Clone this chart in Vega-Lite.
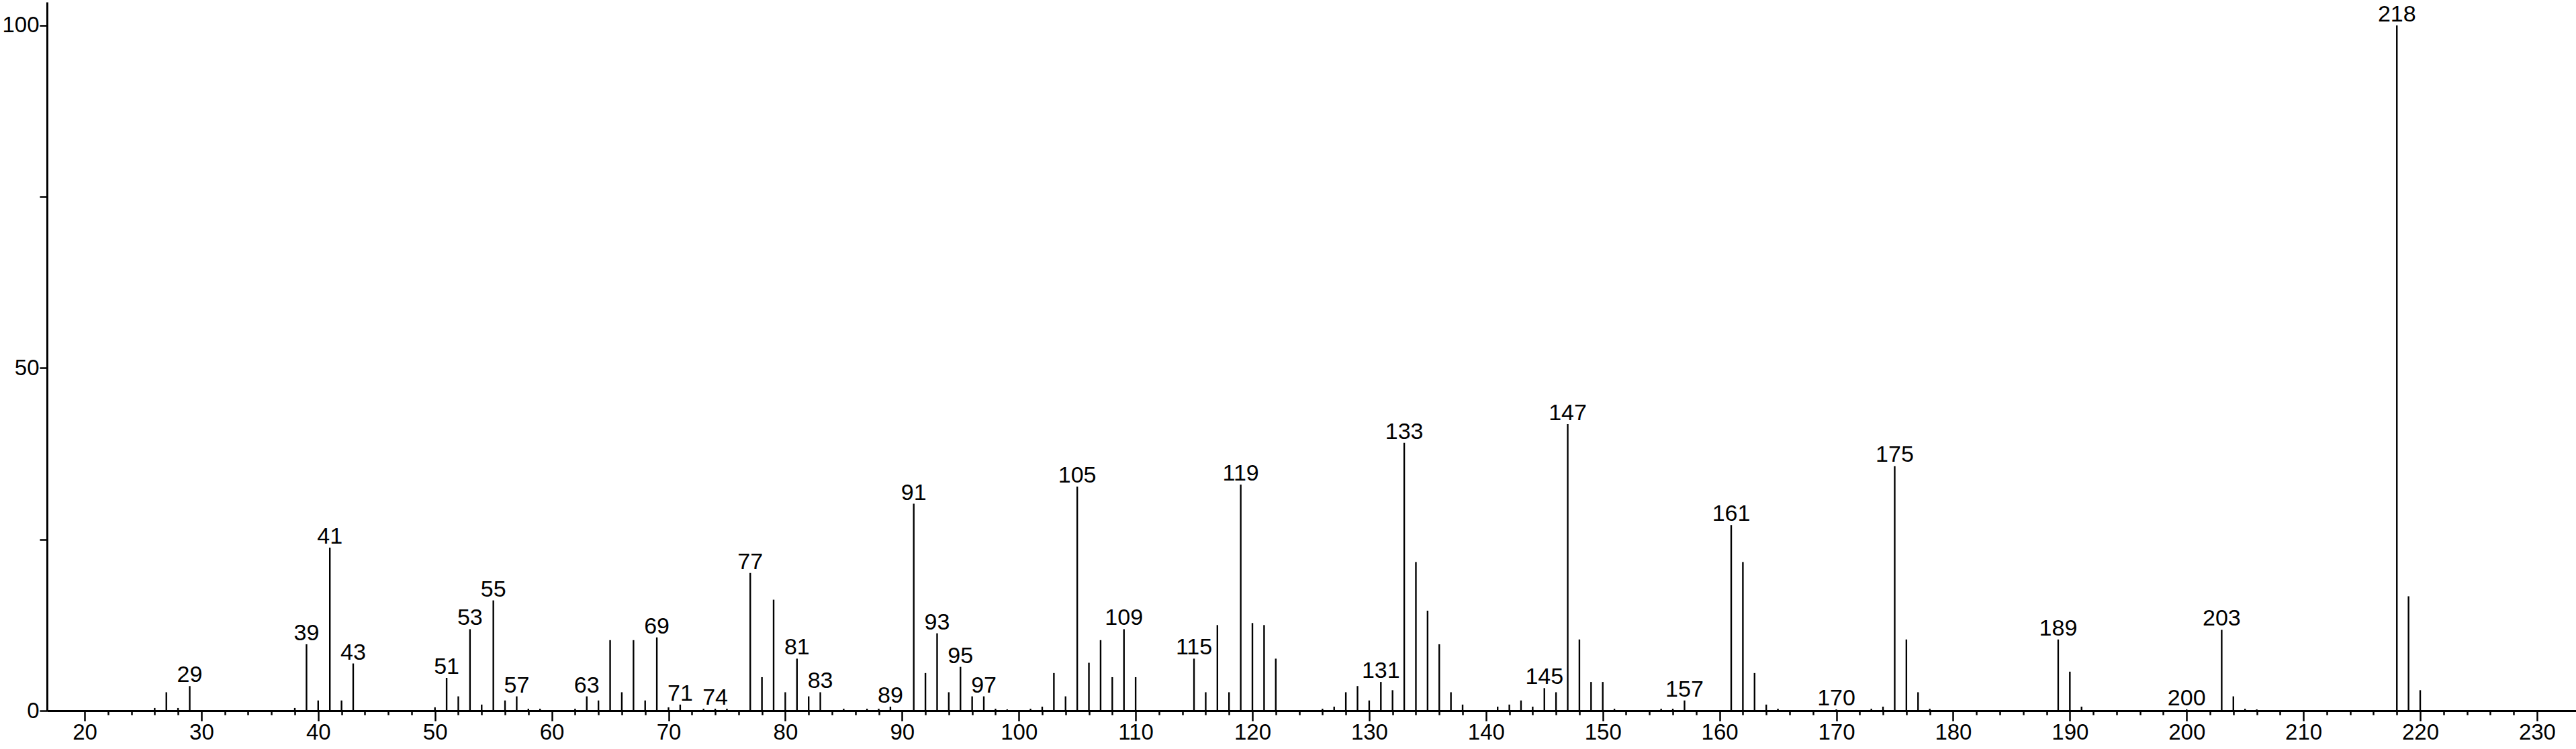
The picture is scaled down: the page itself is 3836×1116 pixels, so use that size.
{
  "$schema": "https://vega.github.io/schema/vega-lite/v6.json",
  "width": 3766,
  "height": 1056,
  "autosize": {"type": "none"},
  "padding": {"left": 70, "top": 3, "right": 0, "bottom": 57},
  "background": "white",
  "config": {"view": {"stroke": null}, "font": "Liberation Sans"},
  "data": {"values": [
    {"mz": 26, "i": 0.4, "label": ""},
    {"mz": 27, "i": 2.7, "label": ""},
    {"mz": 28, "i": 0.4, "label": ""},
    {"mz": 29, "i": 3.6, "label": "29"},
    {"mz": 38, "i": 0.4, "label": ""},
    {"mz": 39, "i": 9.7, "label": "39"},
    {"mz": 40, "i": 1.5, "label": ""},
    {"mz": 41, "i": 23.8, "label": "41"},
    {"mz": 42, "i": 1.5, "label": ""},
    {"mz": 43, "i": 6.9, "label": "43"},
    {"mz": 50, "i": 0.5, "label": ""},
    {"mz": 51, "i": 4.8, "label": "51"},
    {"mz": 52, "i": 2.1, "label": ""},
    {"mz": 53, "i": 11.9, "label": "53"},
    {"mz": 54, "i": 0.9, "label": ""},
    {"mz": 55, "i": 16.1, "label": "55"},
    {"mz": 56, "i": 1.5, "label": ""},
    {"mz": 57, "i": 2.1, "label": "57"},
    {"mz": 58, "i": 0.3, "label": ""},
    {"mz": 59, "i": 0.3, "label": ""},
    {"mz": 62, "i": 0.3, "label": ""},
    {"mz": 63, "i": 2.1, "label": "63"},
    {"mz": 64, "i": 1.5, "label": ""},
    {"mz": 65, "i": 10.3, "label": ""},
    {"mz": 66, "i": 2.7, "label": ""},
    {"mz": 67, "i": 10.3, "label": ""},
    {"mz": 68, "i": 1.5, "label": ""},
    {"mz": 69, "i": 10.7, "label": "69"},
    {"mz": 70, "i": 0.5, "label": ""},
    {"mz": 71, "i": 0.9, "label": "71"},
    {"mz": 73, "i": 0.3, "label": ""},
    {"mz": 74, "i": 0.3, "label": "74"},
    {"mz": 75, "i": 0.3, "label": ""},
    {"mz": 77, "i": 20.1, "label": "77"},
    {"mz": 78, "i": 4.9, "label": ""},
    {"mz": 79, "i": 16.2, "label": ""},
    {"mz": 80, "i": 2.7, "label": ""},
    {"mz": 81, "i": 7.6, "label": "81"},
    {"mz": 82, "i": 2.1, "label": ""},
    {"mz": 83, "i": 2.7, "label": "83"},
    {"mz": 85, "i": 0.3, "label": ""},
    {"mz": 87, "i": 0.3, "label": ""},
    {"mz": 88, "i": 0.3, "label": ""},
    {"mz": 89, "i": 0.6, "label": "89"},
    {"mz": 91, "i": 30.2, "label": "91"},
    {"mz": 92, "i": 5.5, "label": ""},
    {"mz": 93, "i": 11.3, "label": "93"},
    {"mz": 94, "i": 2.7, "label": ""},
    {"mz": 95, "i": 6.4, "label": "95"},
    {"mz": 96, "i": 2.1, "label": ""},
    {"mz": 97, "i": 2.1, "label": "97"},
    {"mz": 98, "i": 0.3, "label": ""},
    {"mz": 99, "i": 0.2, "label": ""},
    {"mz": 101, "i": 0.3, "label": ""},
    {"mz": 102, "i": 0.6, "label": ""},
    {"mz": 103, "i": 5.5, "label": ""},
    {"mz": 104, "i": 2.1, "label": ""},
    {"mz": 105, "i": 32.7, "label": "105"},
    {"mz": 106, "i": 7.0, "label": ""},
    {"mz": 107, "i": 10.3, "label": ""},
    {"mz": 108, "i": 4.9, "label": ""},
    {"mz": 109, "i": 11.9, "label": "109"},
    {"mz": 110, "i": 4.9, "label": ""},
    {"mz": 115, "i": 7.6, "label": "115"},
    {"mz": 116, "i": 2.7, "label": ""},
    {"mz": 117, "i": 12.5, "label": ""},
    {"mz": 118, "i": 2.7, "label": ""},
    {"mz": 119, "i": 33.0, "label": "119"},
    {"mz": 120, "i": 12.8, "label": ""},
    {"mz": 121, "i": 12.5, "label": ""},
    {"mz": 122, "i": 7.6, "label": ""},
    {"mz": 126, "i": 0.3, "label": ""},
    {"mz": 127, "i": 0.6, "label": ""},
    {"mz": 128, "i": 2.7, "label": ""},
    {"mz": 129, "i": 3.6, "label": ""},
    {"mz": 130, "i": 1.5, "label": ""},
    {"mz": 131, "i": 4.2, "label": "131"},
    {"mz": 132, "i": 3.0, "label": ""},
    {"mz": 133, "i": 39.1, "label": "133"},
    {"mz": 134, "i": 21.7, "label": ""},
    {"mz": 135, "i": 14.6, "label": ""},
    {"mz": 136, "i": 9.7, "label": ""},
    {"mz": 137, "i": 2.7, "label": ""},
    {"mz": 138, "i": 0.9, "label": ""},
    {"mz": 141, "i": 0.6, "label": ""},
    {"mz": 142, "i": 0.9, "label": ""},
    {"mz": 143, "i": 1.5, "label": ""},
    {"mz": 144, "i": 0.6, "label": ""},
    {"mz": 145, "i": 3.3, "label": "145"},
    {"mz": 146, "i": 2.7, "label": ""},
    {"mz": 147, "i": 41.8, "label": "147"},
    {"mz": 148, "i": 10.4, "label": ""},
    {"mz": 149, "i": 4.2, "label": ""},
    {"mz": 150, "i": 4.2, "label": ""},
    {"mz": 151, "i": 0.3, "label": ""},
    {"mz": 155, "i": 0.3, "label": ""},
    {"mz": 156, "i": 0.3, "label": ""},
    {"mz": 157, "i": 1.5, "label": "157"},
    {"mz": 161, "i": 27.1, "label": "161"},
    {"mz": 162, "i": 21.7, "label": ""},
    {"mz": 163, "i": 5.5, "label": ""},
    {"mz": 164, "i": 0.9, "label": ""},
    {"mz": 165, "i": 0.3, "label": ""},
    {"mz": 170, "i": 0.2, "label": "170"},
    {"mz": 173, "i": 0.3, "label": ""},
    {"mz": 174, "i": 0.6, "label": ""},
    {"mz": 175, "i": 35.7, "label": "175"},
    {"mz": 176, "i": 10.4, "label": ""},
    {"mz": 177, "i": 2.7, "label": ""},
    {"mz": 178, "i": 0.3, "label": ""},
    {"mz": 189, "i": 10.4, "label": "189"},
    {"mz": 190, "i": 5.7, "label": ""},
    {"mz": 191, "i": 0.6, "label": ""},
    {"mz": 200, "i": 0.2, "label": "200"},
    {"mz": 203, "i": 11.8, "label": "203"},
    {"mz": 204, "i": 2.1, "label": ""},
    {"mz": 205, "i": 0.3, "label": ""},
    {"mz": 206, "i": 0.2, "label": ""},
    {"mz": 218, "i": 100, "label": "218"},
    {"mz": 219, "i": 16.7, "label": ""},
    {"mz": 220, "i": 3.0, "label": ""}
  ]},
  "encoding": {
    "x": {
      "field": "mz", "type": "quantitative",
      "scale": {"domain": [16.78, 233.34], "nice": false, "zero": false},
      "axis": {
        "title": null, "grid": false,
        "values": [20,22,24,26,28,30,32,34,36,38,40,42,44,46,48,50,52,54,56,58,60,62,64,66,68,70,72,74,76,78,80,82,84,86,88,90,92,94,96,98,100,102,104,106,108,110,112,114,116,118,120,122,124,126,128,130,132,134,136,138,140,142,144,146,148,150,152,154,156,158,160,162,164,166,168,170,172,174,176,178,180,182,184,186,188,190,192,194,196,198,200,202,204,206,208,210,212,214,216,218,220,222,224,226,228,230],
        "tickSize": {"condition": {"test": "datum.value % 10 === 0", "value": 15}, "value": 6},
        "tickWidth": 2.5, "tickColor": "black",
        "domainColor": "black", "domainWidth": 3,
        "labelExpr": "datum.value % 10 === 0 ? datum.label : ''",
        "labelFont": "Liberation Sans", "labelFontSize": 33, "labelColor": "black",
        "labelPadding": 1, "labelFlush": false, "labelOverlap": false
      }
    },
    "y": {
      "field": "i", "type": "quantitative",
      "scale": {"domain": [0, 103.4], "nice": false},
      "axis": {
        "title": null, "grid": false,
        "values": [0, 25, 50, 75, 100],
        "tickSize": 11, "tickWidth": 2.5, "tickColor": "black",
        "domainColor": "black", "domainWidth": 3,
        "labelExpr": "datum.value % 50 === 0 ? datum.label : ''",
        "labelFont": "Liberation Sans", "labelFontSize": 33, "labelColor": "black",
        "labelPadding": 1, "labelOverlap": false
      }
    }
  },
  "layer": [
    {
      "mark": {"type": "rule", "color": "black", "strokeWidth": 2.4},
      "encoding": {"y2": {"datum": 0}}
    },
    {
      "transform": [{"filter": "datum.label !== ''"}],
      "mark": {"type": "text", "color": "black", "font": "Liberation Sans", "fontSize": 34, "align": "center", "baseline": "alphabetic", "dy": -6},
      "encoding": {"text": {"field": "label"}}
    }
  ]
}
